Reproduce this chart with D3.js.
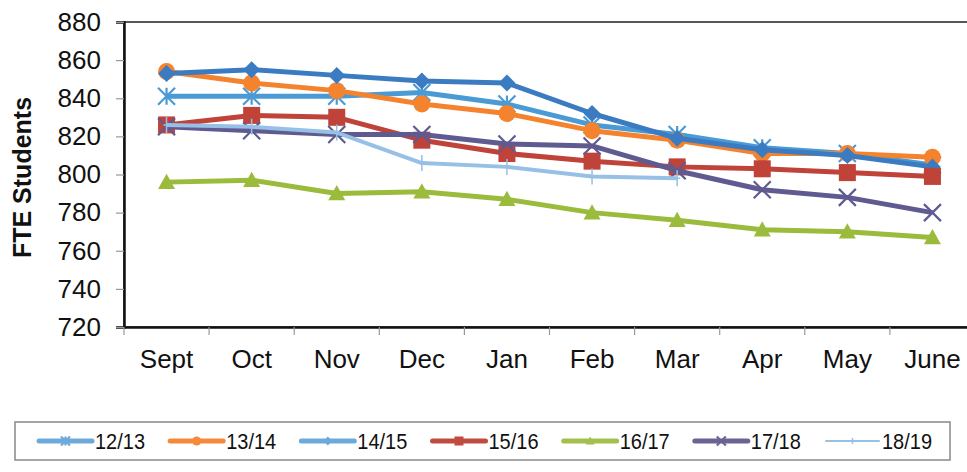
<!DOCTYPE html>
<html>
<head>
<meta charset="utf-8">
<script src="https://cdn.jsdelivr.net/npm/d3@7/dist/d3.min.js"></script>
<style>
  html, body { margin: 0; padding: 0; background: #fff; }
  svg { display: block; font-family: "Liberation Sans", Arial, sans-serif; }
</style>
</head>
<body>
<svg id="chart" width="967" height="472"></svg>
<script>
// Monthly FTE student counts by school year
const months = ["Sept", "Oct", "Nov", "Dec", "Jan", "Feb", "Mar", "Apr", "May", "June"];
const seriesNames = ["12/13", "13/14", "14/15", "15/16", "16/17", "17/18", "18/19"];
const fte1213 = [841, 841, 841, 843, 837, 826, 821, 814, 811, 805];
const fte1314 = [854, 848, 844, 837, 832, 823, 818, 811, 811, 809];
const fte1415 = [853, 855, 852, 849, 848, 832, 819, 813, 810, 804];
const fte1516 = [826, 831, 830, 818, 811, 807, 804, 803, 801, 799];
const fte1617 = [796, 797, 790, 791, 787, 780, 776, 771, 770, 767];
const fte1718 = [825, 823, 821, 821, 816, 815, 802, 792, 788, 780];
const fte1819 = [826, 825, 822, 806, 804, 799, 798, null, null, null];
const yTicks = [720, 740, 760, 780, 800, 820, 840, 860, 880];

const colors = ["#4a9ad6", "#f5832d", "#3b7bc2", "#c0433a", "#9bbb3c", "#5f5a8f", "#96c0e6"];
const legendColors = ["#6eaad9", "#f58a3c", "#6eaad9", "#c04c40", "#a3bf4e", "#6a6494", "#96c0e6"];
const markerKinds = ["asterisk", "circle", "diamond", "square", "triangle", "cross", "plus"];
const lineWidths = [5, 5, 5, 5, 5, 5, 4];
const allValues = [fte1213, fte1314, fte1415, fte1516, fte1617, fte1718, fte1819];

const series = seriesNames.map((name, i) => ({
  name, color: colors[i], legendColor: legendColors[i], kind: markerKinds[i], width: lineWidths[i],
  points: months.map((m, j) => ({ m, v: allValues[i][j] })).filter(p => p.v != null)
}));

const svg = d3.select("#chart");
const plotLeft = 124, plotRight = 975, plotTop = 22, plotBottom = 327;

const x = d3.scaleBand().domain(months).range([plotLeft, plotRight]).padding(0);
const y = d3.scaleLinear().domain([720, 880]).range([plotBottom, plotTop]);
const cx = m => x(m) + x.bandwidth() / 2;

// plot frame
svg.append("rect")
  .attr("x", plotLeft).attr("y", plotTop)
  .attr("width", plotRight - plotLeft).attr("height", plotBottom - plotTop)
  .attr("fill", "none").attr("stroke", "#222").attr("stroke-width", 1.5);

// y axis
const yAxis = svg.append("g")
  .attr("transform", `translate(${plotLeft},0)`)
  .call(d3.axisLeft(y).tickValues(yTicks).tickSize(8).tickPadding(15));
yAxis.select(".domain").attr("stroke", "#111").attr("stroke-width", 2.5);
yAxis.selectAll(".tick line").attr("stroke", "#999").attr("stroke-width", 1.2);
yAxis.selectAll("text")
  .attr("font-size", 26).attr("fill", "#111")
  .attr("font-family", "Liberation Sans, Arial, sans-serif");

// x axis (category labels centred in bands, ticks between categories)
const xAxis = svg.append("g")
  .attr("transform", `translate(0,${plotBottom})`)
  .call(d3.axisBottom(x).tickSize(0));
xAxis.select(".domain").attr("stroke", "#111").attr("stroke-width", 2.5);
xAxis.selectAll("text")
  .attr("dy", null).attr("y", 41)
  .attr("font-size", 26).attr("fill", "#111")
  .attr("font-family", "Liberation Sans, Arial, sans-serif");
xAxis.selectAll(".between")
  .data(months)
  .enter().append("line")
  .attr("class", "between")
  .attr("x1", d => x(d)).attr("x2", d => x(d))
  .attr("y1", 0).attr("y2", 8)
  .attr("stroke", "#999").attr("stroke-width", 1.2);

// y axis title
svg.append("text")
  .attr("transform", `translate(31,${(plotTop + plotBottom) / 2 + 3}) rotate(-90)`)
  .attr("text-anchor", "middle")
  .attr("font-size", 25).attr("font-weight", "bold").attr("fill", "#111")
  .text("FTE Students");

// marker drawing
function drawMarker(g, kind, color, s) {
  const h = s / 2;
  if (kind === "circle") {
    g.append("circle").attr("r", h).attr("fill", color);
  } else if (kind === "square") {
    g.append("rect").attr("x", -h).attr("y", -h).attr("width", s).attr("height", s).attr("fill", color);
  } else if (kind === "diamond") {
    g.append("path").attr("d", `M0,${-h}L${h},0L0,${h}L${-h},0Z`).attr("fill", color);
  } else if (kind === "triangle") {
    g.append("path").attr("d", `M0,${-h}L${h},${h * 0.8}L${-h},${h * 0.8}Z`).attr("fill", color);
  } else if (kind === "cross") {
    g.append("path").attr("d", `M${-h},${-h}L${h},${h}M${h},${-h}L${-h},${h}`)
      .attr("stroke", color).attr("stroke-width", 2.2).attr("fill", "none");
  } else if (kind === "asterisk") {
    g.append("path").attr("d", `M${-h},${-h}L${h},${h}M${h},${-h}L${-h},${h}M0,${-h}L0,${h}`)
      .attr("stroke", color).attr("stroke-width", 2.2).attr("fill", "none");
  } else if (kind === "plus") {
    g.append("path").attr("d", `M0,${-h}L0,${h}M${-h * 0.4},0L${h * 0.4},0`)
      .attr("stroke", color).attr("stroke-width", 1.5).attr("fill", "none");
  }
}

const line = d3.line().x(d => cx(d.m)).y(d => y(d.v));

// series lines and markers
series.forEach(s => {
  const g = svg.append("g").attr("class", "series");
  g.append("path")
    .datum(s.points)
    .attr("d", line)
    .attr("fill", "none")
    .attr("stroke", s.color)
    .attr("stroke-width", s.width)
    .attr("stroke-linejoin", "round");
  g.selectAll(".mk")
    .data(s.points)
    .enter().append("g")
    .attr("class", "mk")
    .attr("transform", d => `translate(${cx(d.m)},${y(d.v)})`)
    .each(function () { drawMarker(d3.select(this), s.kind, s.color, s.kind === "plus" ? 16 : 17); });
});

// legend
const legend = svg.append("g");
legend.append("rect")
  .attr("x", 15).attr("y", 422).attr("width", 935).attr("height", 38)
  .attr("fill", "#fff").attr("stroke", "#888").attr("stroke-width", 1.5);
const legendX = d3.scalePoint().domain(seriesNames).range([39, 826]);
const item = legend.selectAll(".item")
  .data(series)
  .enter().append("g")
  .attr("class", "item")
  .attr("transform", d => `translate(${legendX(d.name)},441)`);
item.append("line")
  .attr("x1", 0).attr("x2", 53)
  .attr("stroke", d => d.legendColor)
  .attr("stroke-width", d => d.kind === "plus" ? 2 : 5)
  .attr("stroke-linecap", "round");
item.each(function (d) {
  const mk = d3.select(this).append("g").attr("transform", "translate(26.5,0)");
  drawMarker(mk, d.kind, d.legendColor, d.kind === "plus" ? 6 : 9);
});
item.append("text")
  .attr("x", 56).attr("y", 8)
  .attr("font-size", 22).attr("fill", "#111")
  .attr("textLength", 50)
  .attr("lengthAdjust", "spacingAndGlyphs")
  .text(d => d.name);
</script>
</body>
</html>
